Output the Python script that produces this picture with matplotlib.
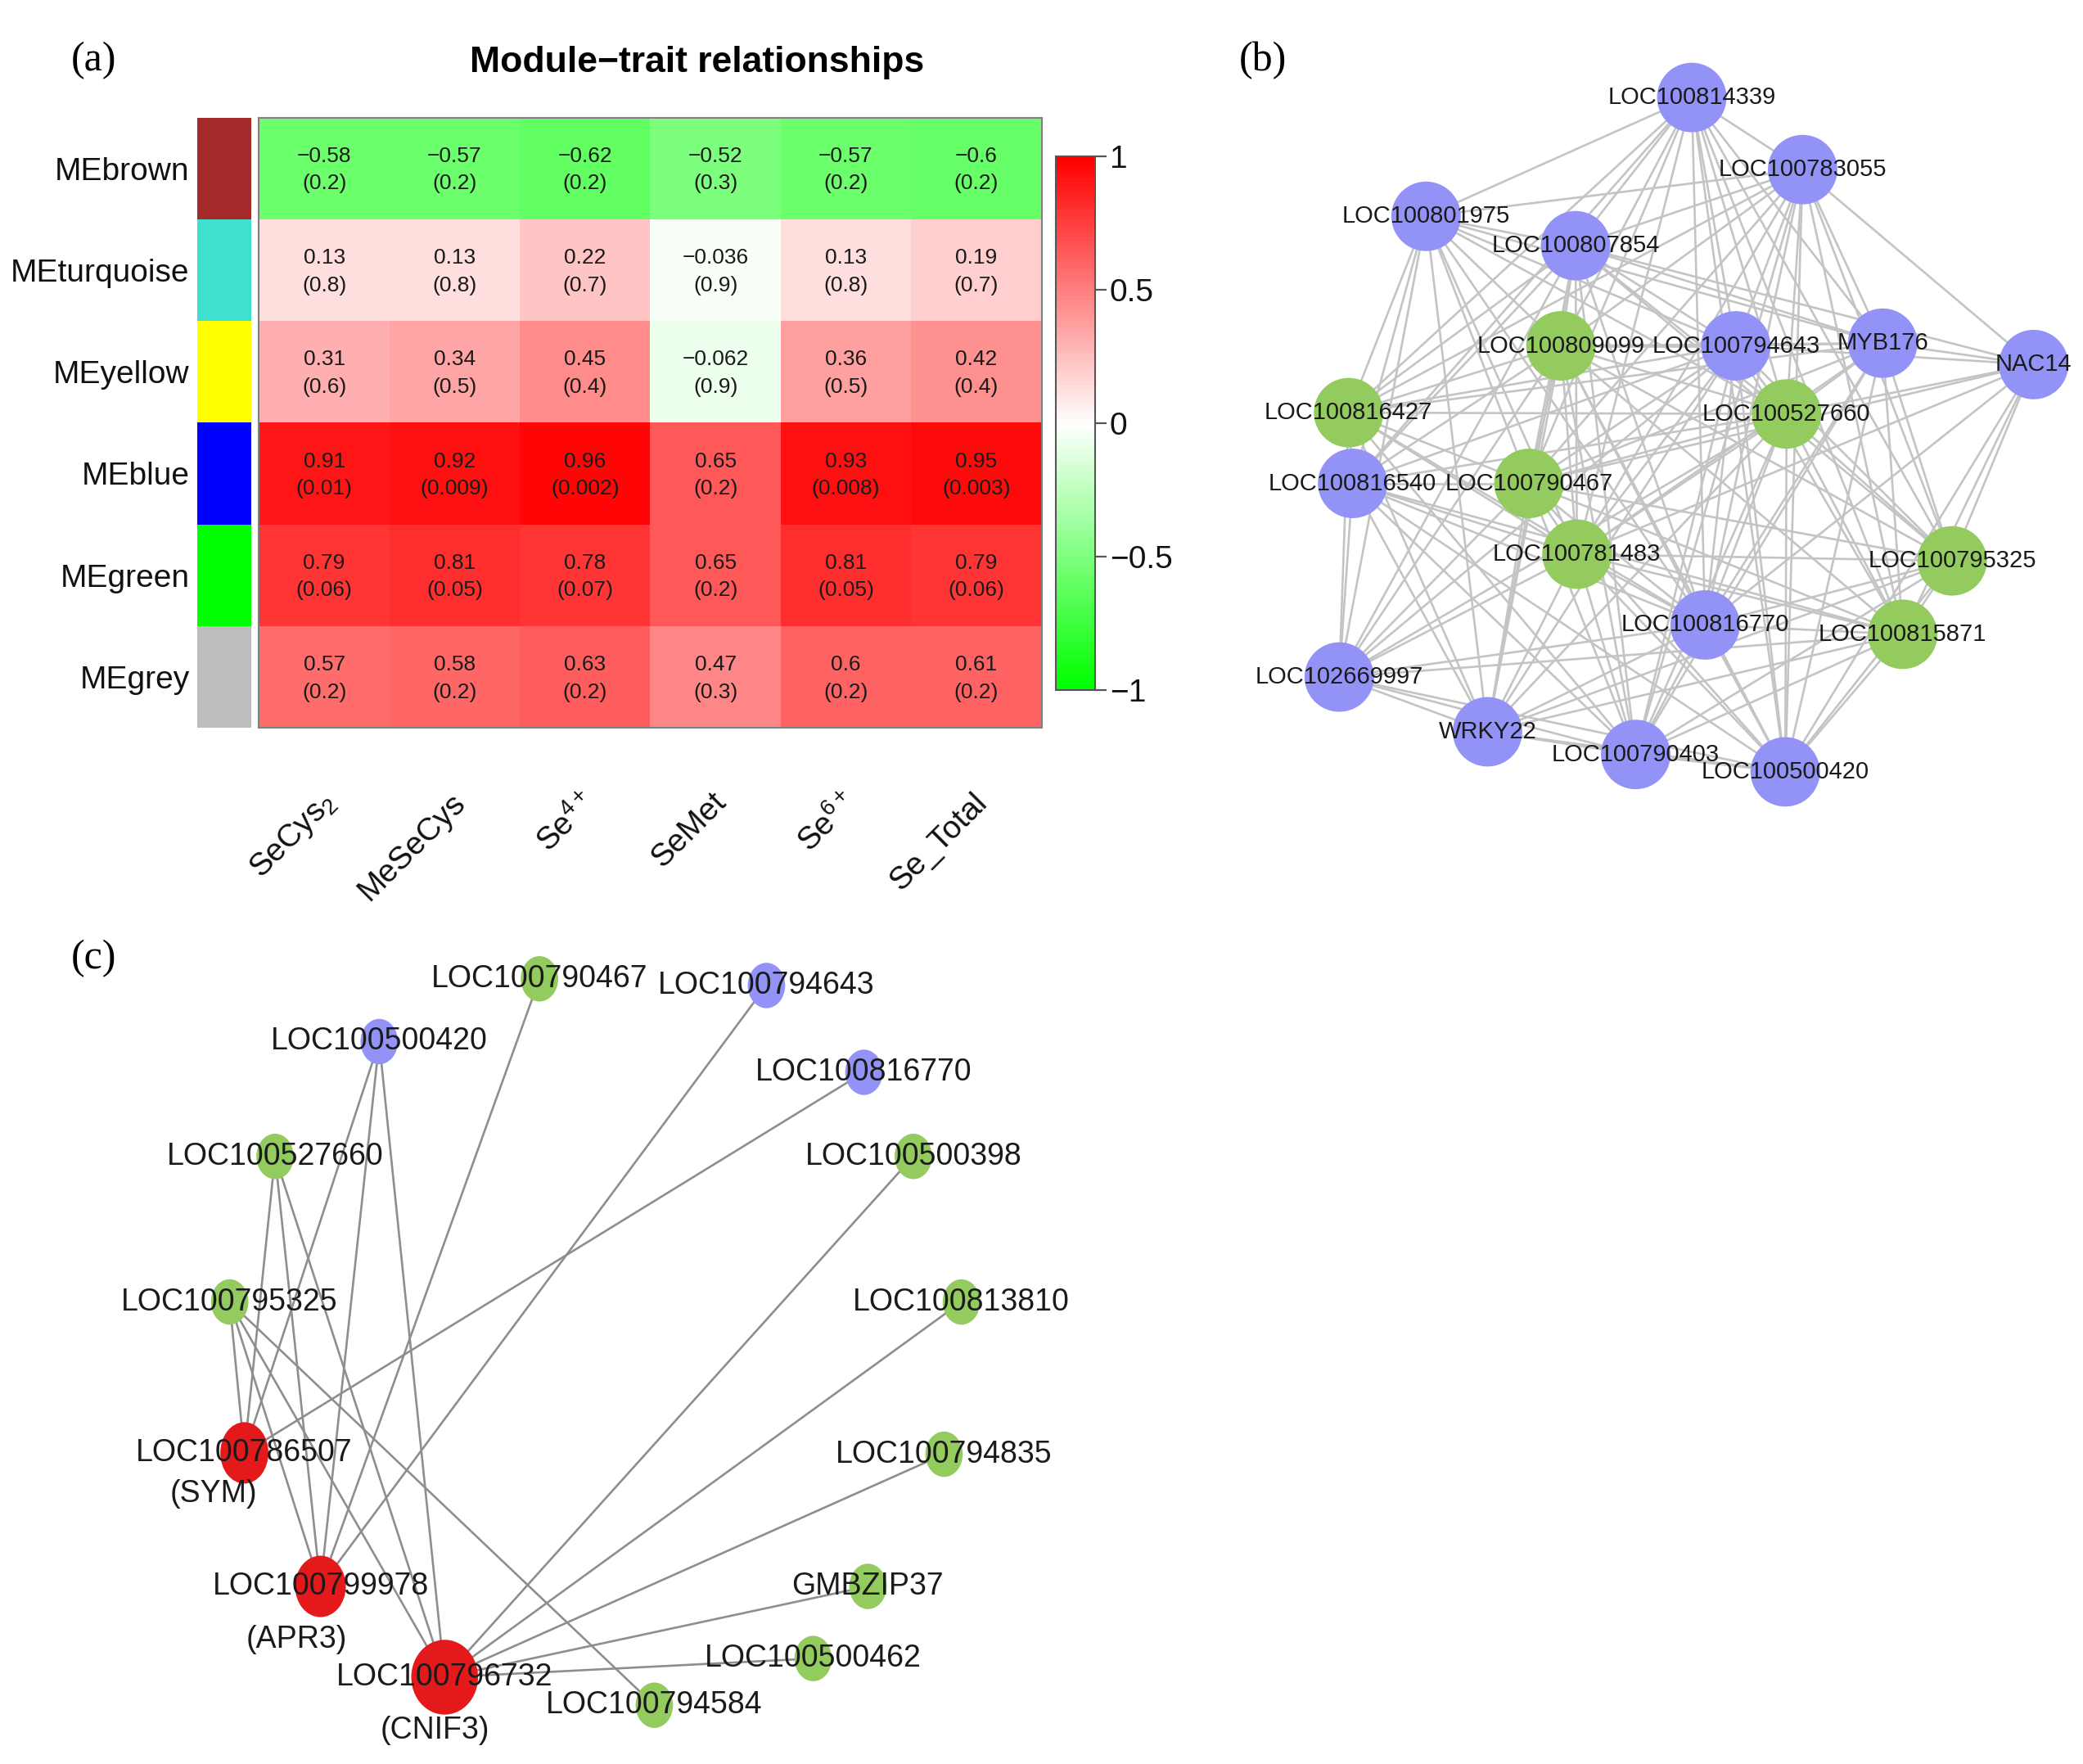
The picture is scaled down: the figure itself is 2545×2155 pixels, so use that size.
import itertools
import numpy as np
import matplotlib
matplotlib.use("Agg")
import matplotlib.pyplot as plt
from matplotlib.colors import LinearSegmentedColormap
from matplotlib.patches import Ellipse

plt.rcParams["font.family"] = ["Liberation Sans", "DejaVu Sans"]
plt.rcParams["mathtext.fontset"] = "custom"
plt.rcParams["mathtext.rm"] = "Liberation Sans"
plt.rcParams["mathtext.it"] = "Liberation Sans:italic"

# ---------- DATA: (a) module-trait heatmap ----------
modules = ["MEbrown", "MEturquoise", "MEyellow", "MEblue", "MEgreen", "MEgrey"]
module_colors = ["#A52A2A", "#40E0D0", "#FFFF00", "#0000FF", "#00FF00", "#BEBEBE"]
traits = [r"SeCys$_2$", "MeSeCys", r"Se$^{4+}$", "SeMet", r"Se$^{6+}$", "Se_Total"]
corr = [
    [-0.58, -0.57, -0.62, -0.52, -0.57, -0.6],
    [0.13, 0.13, 0.22, -0.036, 0.13, 0.19],
    [0.31, 0.34, 0.45, -0.062, 0.36, 0.42],
    [0.91, 0.92, 0.96, 0.65, 0.93, 0.95],
    [0.79, 0.81, 0.78, 0.65, 0.81, 0.79],
    [0.57, 0.58, 0.63, 0.47, 0.6, 0.61],
]
pvals = [
    [0.2, 0.2, 0.2, 0.3, 0.2, 0.2],
    [0.8, 0.8, 0.7, 0.9, 0.8, 0.7],
    [0.6, 0.5, 0.4, 0.9, 0.5, 0.4],
    [0.01, 0.009, 0.002, 0.2, 0.008, 0.003],
    [0.06, 0.05, 0.07, 0.2, 0.05, 0.06],
    [0.2, 0.2, 0.2, 0.3, 0.2, 0.2],
]
cbar_ticks = [-1, -0.5, 0, 0.5, 1]

# ---------- DATA: (b) co-expression network (layout in page units) ----------
b_names = ["LOC100814339", "LOC100783055", "LOC100801975", "LOC100807854",
           "LOC100809099", "LOC100794643", "MYB176", "NAC14",
           "LOC100816427", "LOC100527660", "LOC100816540", "LOC100790467",
           "LOC100781483", "LOC100795325", "LOC100816770", "LOC100815871",
           "LOC102669997", "WRKY22", "LOC100790403", "LOC100500420"]
b_x = [1267, 1350, 1068, 1180, 1169, 1300, 1410, 1523, 1010, 1338,
       1013, 1145, 1181, 1462, 1277, 1425, 1003, 1114, 1225, 1337]
b_y = [73, 127, 162, 184, 259, 259, 257, 273, 309, 310,
       362, 362, 415, 420, 468, 475, 507, 548, 565, 578]
b_group = ["blue", "blue", "blue", "blue", "green", "blue", "blue", "blue",
           "green", "green", "blue", "green", "green", "green", "blue", "green",
           "blue", "blue", "blue", "blue"]
# pairs that are NOT linked; every other pair of genes is linked
b_missing = [(0, 7), (0, 16), (0, 17), (1, 10), (1, 16), (1, 17), (2, 7),
             (2, 13), (2, 15), (2, 18), (2, 19), (3, 15), (3, 19), (6, 10),
             (6, 16), (6, 17), (7, 8), (7, 10), (7, 16), (7, 17), (7, 18),
             (8, 13), (8, 15), (8, 19), (10, 13), (13, 16), (4, 7), (0, 18)]

# ---------- DATA: (c) sub-network ----------
c_names = ["LOC100790467", "LOC100794643", "LOC100500420", "LOC100816770",
           "LOC100527660", "LOC100500398", "LOC100795325", "LOC100813810",
           "LOC100786507", "LOC100794835", "LOC100799978", "GMBZIP37",
           "LOC100500462", "LOC100796732", "LOC100794584"]
c_alias = {"LOC100786507": "(SYM)", "LOC100799978": "(APR3)",
           "LOC100796732": "(CNIF3)"}
c_x = [404, 574, 284, 647, 206, 684, 172, 720, 183, 707, 240, 650, 609, 333, 490]
c_y = [733, 738, 780, 803, 866, 866, 975, 975, 1088, 1089, 1188, 1188, 1242, 1256, 1277]
c_group = ["green", "blue", "blue", "blue", "green", "green", "green", "green",
           "red", "green", "red", "green", "green", "red", "green"]
c_edges = [(2, 8), (2, 10), (2, 13), (4, 8), (4, 10), (4, 13),
           (6, 8), (6, 10), (6, 13), (6, 14), (0, 10), (1, 10), (3, 8),
           (5, 13), (7, 13), (9, 13), (11, 13), (12, 13)]

# ---------- STYLE ----------
W, H = 1560, 1321          # page units used for the layout
node_col = {"blue": "#9393F7", "green": "#93CB5F", "red": "#E3191B"}
c_red_size = {"LOC100786507": (36, 46), "LOC100799978": (38, 46),
              "LOC100796732": (50, 56)}
alias_offset = {"LOC100786507": (-23, 31), "LOC100799978": (-18, 40),
                "LOC100796732": (-7, 40)}


def box(x0, y0, x1, y1):
    return [x0 / W, 1 - y1 / H, (x1 - x0) / W, (y1 - y0) / H]


fig = plt.figure(figsize=(25.45, 21.55), dpi=100)

# ---------- NETWORKS (b) and (c) ----------
ax_net = fig.add_axes([0, 0, 1, 1])
ax_net.set_xlim(0, W)
ax_net.set_ylim(H, 0)
ax_net.axis("off")

for i, j in itertools.combinations(range(len(b_names)), 2):
    if (i, j) in b_missing or (j, i) in b_missing:
        continue
    ax_net.plot([b_x[i], b_x[j]], [b_y[i], b_y[j]], color="#C4C4C4",
                lw=1.9, zorder=1, solid_capstyle="round")
for name, x, y, g in zip(b_names, b_x, b_y, b_group):
    ax_net.add_patch(Ellipse((x, y), 52, 52, color=node_col[g], lw=0, zorder=2))
    ax_net.text(x, y, name, fontsize=21, color="#1a1a1a",
                ha="center", va="center", zorder=3)

for i, j in c_edges:
    ax_net.plot([c_x[i], c_x[j]], [c_y[i], c_y[j]], color="#8E8E8E",
                lw=1.9, zorder=1)
for name, x, y, g in zip(c_names, c_x, c_y, c_group):
    w, h = c_red_size.get(name, (28, 34))
    ax_net.add_patch(Ellipse((x, y), w, h, color=node_col[g], lw=0, zorder=2))
    ax_net.text(x, y, name, fontsize=27, color="#1a1a1a",
                ha="center", va="center", zorder=3)
    if name in c_alias:
        dx, dy = alias_offset[name]
        ax_net.text(x + dx, y + dy, c_alias[name], fontsize=27,
                    color="#1a1a1a", ha="center", va="center", zorder=3)

# ---------- HEATMAP (a) ----------
cmap = LinearSegmentedColormap.from_list("gwr", ["#00FF00", "#FFFFFF", "#FF0000"], N=100)
ax = fig.add_axes(box(194, 88, 780, 545))
mesh = ax.pcolormesh(np.arange(len(traits) + 1), np.arange(len(modules) + 1),
                     np.array(corr), cmap=cmap, vmin=-1, vmax=1)
ax.set_xlim(0, len(traits))
ax.set_ylim(len(modules), 0)
ax.set_xticks([])
ax.set_yticks([])
for s in ax.spines.values():
    s.set_color("#808080")
    s.set_linewidth(1.5)

for i in range(len(modules)):
    for j in range(len(traits)):
        r = f"{corr[i][j]:.2g}".replace("-", "\u2212")
        p = f"({pvals[i][j]:.2g})"
        ax.text(j + 0.5, i + 0.38, r, fontsize=19, color="#1a1a1a",
                ha="center", va="center")
        ax.text(j + 0.5, i + 0.65, p, fontsize=19, color="#1a1a1a",
                ha="center", va="center")

for j, lab in enumerate(traits):
    ax.text(j + 0.55, -0.115, lab, transform=ax.get_xaxis_transform(),
            fontsize=28, rotation=45, ha="right", va="center",
            rotation_mode="anchor", color="#111111")

# module colour strip
ax_m = fig.add_axes(box(148, 88, 188, 545))
ax_m.barh(np.arange(len(modules)) + 0.5, 1, height=1, color=module_colors, lw=0)
ax_m.set_xlim(0, 1)
ax_m.set_ylim(len(modules), 0)
ax_m.set_xticks([])
ax_m.set_yticks(np.arange(len(modules)) + 0.5)
ax_m.set_yticklabels(modules, fontsize=28, color="#111111")
ax_m.tick_params(axis="y", length=0, pad=7)
for s in ax_m.spines.values():
    s.set_visible(False)

# colour bar
ax_cb = fig.add_axes(box(791, 117, 820, 517))
cb = fig.colorbar(mesh, cax=ax_cb, ticks=cbar_ticks)
cb.set_ticklabels([f"{t:g}".replace("-", "\u2212") for t in cbar_ticks])
cb.outline.set_edgecolor("#555555")
cb.outline.set_linewidth(1.5)
ax_cb.tick_params(labelsize=28, length=10, width=1.6, color="#555555",
                  pad=3, labelcolor="#111111")

fig.text(522 / W, 1 - 47 / H, "Module\u2212trait relationships",
         fontsize=32, fontweight="bold", ha="center", va="center")

# panel letters
for lab, (x, y) in zip(["(a)", "(b)", "(c)"], [(70, 45), (946, 45), (70, 718)]):
    fig.text(x / W, 1 - y / H, lab, fontsize=36, family="Liberation Serif",
             ha="center", va="center")

fig.savefig("out.png", dpi=100)
